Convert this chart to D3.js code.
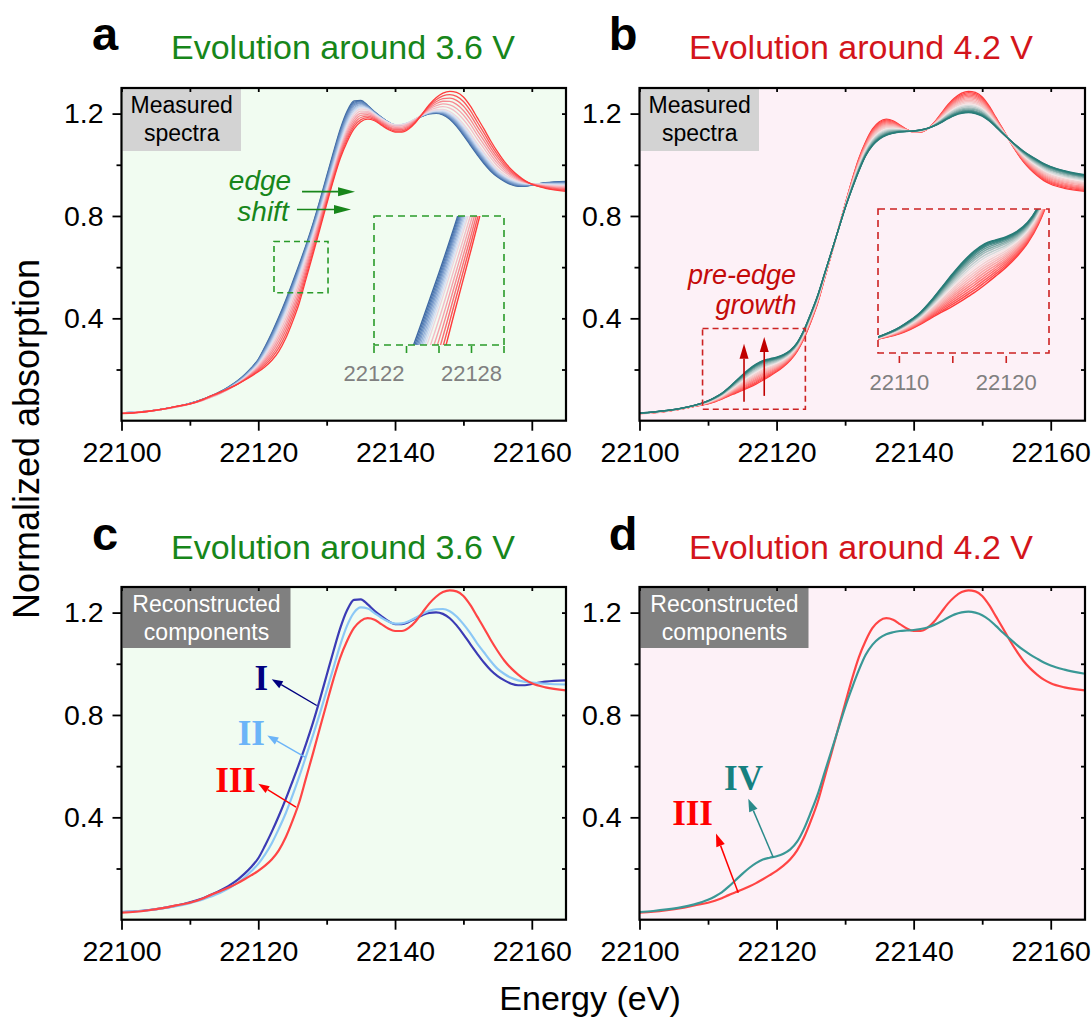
<!DOCTYPE html>
<html>
<head>
<meta charset="utf-8">
<title>XANES evolution around 3.6 V and 4.2 V</title>
<script src="https://cdn.jsdelivr.net/npm/d3@7/dist/d3.min.js"></script>
<style>
  html, body { margin: 0; padding: 0; background: #ffffff; }
  svg { display: block; }
</style>
</head>
<body>
<svg id="fig" width="1092" height="1023"></svg>
<script>
// Photon energy grid (eV)
const energy = [22100,22102,22104,22106,22108,
  22110,22111,22112,22113,22114,22115,22116,22117,22118,22119,22120,
  22121,22122,22123,22124,22125,22126,22127,22128,22129,22130,
  22131,22132,22133,22134,22135,22136,22137,22138,22139,22140,
  22141,22142,22143,22144,22145,22146,22147,22148,22149,22150,
  22151,22152,22153,22154,22155,22156,22157,22158,22159,22160,
  22162,22165];

// Reconstructed component spectra (normalized absorption)
const compI = [0.030,0.033,0.038,0.045,0.055,
  0.068,0.076,0.085,0.096,0.108,0.122,0.138,0.157,0.180,0.207,0.240,
  0.290,0.345,0.405,0.470,0.540,0.612,0.688,0.770,0.860,0.955,
  1.050,1.140,1.210,1.250,1.252,1.232,1.207,1.186,1.167,1.155,
  1.155,1.163,1.177,1.190,1.199,1.201,1.195,1.178,1.150,1.115,
  1.077,1.040,1.005,0.975,0.952,0.935,0.922,0.916,0.916,0.921,
  0.930,0.935];
const compII = [0.030,0.033,0.037,0.044,0.053,
  0.065,0.072,0.080,0.090,0.100,0.113,0.128,0.145,0.165,0.190,0.218,
  0.255,0.300,0.355,0.415,0.485,0.560,0.640,0.720,0.805,0.895,
  0.985,1.075,1.150,1.200,1.220,1.216,1.198,1.180,1.165,1.157,
  1.158,1.166,1.180,1.195,1.207,1.213,1.214,1.205,1.185,1.155,
  1.120,1.080,1.045,1.010,0.980,0.960,0.945,0.935,0.929,0.926,
  0.922,0.919];
const compIII = [0.028,0.031,0.037,0.045,0.056,
  0.066,0.074,0.084,0.096,0.107,0.118,0.130,0.143,0.158,0.174,0.191,
  0.211,0.236,0.271,0.321,0.386,0.460,0.555,0.650,0.748,0.845,
  0.940,1.025,1.090,1.140,1.168,1.178,1.172,1.155,1.138,1.128,
  1.128,1.140,1.165,1.200,1.235,1.262,1.280,1.287,1.283,1.265,
  1.230,1.185,1.140,1.093,1.050,1.012,0.982,0.958,0.938,0.924,
  0.908,0.896];
const compIV = [0.030,0.034,0.040,0.048,0.060,
  0.078,0.091,0.107,0.129,0.154,0.179,0.202,0.221,0.235,0.242,0.248,
  0.258,0.275,0.305,0.355,0.420,0.490,0.575,0.660,0.745,0.830,
  0.905,0.975,1.035,1.075,1.100,1.115,1.123,1.128,1.130,1.132,
  1.136,1.142,1.152,1.165,1.180,1.193,1.201,1.204,1.200,1.190,
  1.172,1.148,1.122,1.098,1.075,1.054,1.036,1.020,1.005,0.993,
  0.977,0.961];

// Measured spectra around 3.6 V: fractions of components I, II and III
const fracA_I   = [1.00,0.90,0.80,0.70,0.60,0.48,0.36,0.24,0.10,0.00,0.00,0.00,0.00,0.00,0.00,0.00];
const fracA_II  = [0.00,0.10,0.20,0.30,0.40,0.52,0.64,0.76,0.90,0.96,0.80,0.64,0.48,0.32,0.16,0.00];
const fracA_III = [0.00,0.00,0.00,0.00,0.00,0.00,0.00,0.00,0.00,0.04,0.20,0.36,0.52,0.68,0.84,1.00];
const colorsA = ["#3e68a3","#4a74ad","#5a82b8","#6b90c3","#7f9fcd","#94b0d8","#abc2e2","#c3d3ec",
                 "#d8e0f2","#eed6de","#f4bcc6","#f6a2ac","#f88890","#fa6e74","#fc5458","#ff3b3b"];

// Measured spectra around 4.2 V: fraction of component IV (remainder is III)
const fracB_IV = [0.00,0.06,0.12,0.18,0.24,0.30,0.36,0.42,0.48,0.54,0.60,0.66,0.72,0.78,0.83,0.88,0.92,0.95,0.98,1.00];
const colorsB = ["#ff3a3a","#ff4c4c","#ff5e5e","#ff7070","#fd8282","#fb9494","#f9a6a6","#f7b6b6","#f5c4c4","#f2d0d0",
                 "#f4e4e4","#d8dcdc","#bccccb","#a0bcba","#84aca9","#689c99","#4e8f8b","#3a8682","#2e807c","#277b77"];

// Axis ticks
const xMajor = [22100, 22120, 22140, 22160];
const xMinor = [22110, 22130, 22150];
const yMajor = [0.4, 0.8, 1.2];
const yMinor = [0.2, 0.6, 1.0];
const insetATicks = [22122, 22124, 22126, 22128, 22130];
const insetALabels = [22122, 22128];
const insetBTicks = [22110, 22115, 22120];
const insetBLabels = [22110, 22120];

const xDomain = [22100, 22165];
const yDomain = [0, 1.3];

const SANS = '"Liberation Sans", Arial, sans-serif';
const SERIF = '"Liberation Serif", "Times New Roman", serif';
const GREEN = "#17861a", RED = "#d3151b", DARKRED = "#c40a0a";
const BG_GREEN = "#f1fcf1", BG_PINK = "#fdf1f7";

const svg = d3.select("#fig").style("font-family", SANS);
const defs = svg.append("defs");

function series(vals) { return energy.map((e, i) => [e, vals[i]]); }
function mix(weights, comps) {
  return energy.map((e, i) => [e, comps.reduce((s, c, k) => s + weights[k] * c[i], 0)]);
}

function panel(id, left, top, width, height, bg) {
  const x = d3.scaleLinear().domain(xDomain).range([left, left + width]);
  const y = d3.scaleLinear().domain(yDomain).range([top + height, top]);
  const g = svg.append("g").attr("id", "panel-" + id);
  g.append("rect").attr("x", left).attr("y", top).attr("width", width).attr("height", height).attr("fill", bg);
  defs.append("clipPath").attr("id", "clip-" + id)
    .append("rect").attr("x", left).attr("y", top).attr("width", width).attr("height", height);
  const plot = g.append("g").attr("clip-path", `url(#clip-${id})`);
  const line = d3.line().x(d => x(d[0])).y(d => y(d[1])).curve(d3.curveMonotoneX);
  return { id, x, y, g, plot, line, left, top, width, height };
}

function styleAxis(sel, fs) {
  sel.select(".domain").remove();
  sel.selectAll(".tick line").attr("stroke", "#000").attr("stroke-width", 1.8);
  sel.selectAll(".tick text").attr("font-size", fs).attr("fill", "#000").style("font-family", SANS);
}

const TICK_FS = 28.5;
function axes(P) {
  const a = P.g.append("g");
  const bottom = P.top + P.height, right = P.left + P.width;
  a.append("g").attr("transform", `translate(0,${bottom})`)
    .call(d3.axisBottom(P.x).tickValues(xMajor).tickSize(10).tickPadding(11).tickFormat(d3.format("d")))
    .call(s => styleAxis(s, TICK_FS));
  a.append("g").attr("transform", `translate(0,${bottom})`)
    .call(d3.axisBottom(P.x).tickValues(xMinor).tickSize(5).tickFormat(""))
    .call(s => styleAxis(s, TICK_FS));
  a.append("g").attr("transform", `translate(${P.left},0)`)
    .call(d3.axisLeft(P.y).tickValues(yMajor).tickSize(9).tickPadding(9).tickFormat(d3.format(".1f")))
    .call(s => styleAxis(s, TICK_FS));
  a.append("g").attr("transform", `translate(${P.left},0)`)
    .call(d3.axisLeft(P.y).tickValues(yMinor).tickSize(5).tickFormat(""))
    .call(s => styleAxis(s, TICK_FS));
  // mirrored ticks on the top and right edges, pointing inwards
  a.append("g").attr("transform", `translate(0,${P.top})`)
    .call(d3.axisBottom(P.x).tickValues(xMajor.concat(xMinor)).tickSize(4).tickFormat(""))
    .call(s => styleAxis(s, TICK_FS));
  a.append("g").attr("transform", `translate(${right},0)`)
    .call(d3.axisLeft(P.y).tickValues(yMajor.concat(yMinor)).tickSize(4).tickFormat(""))
    .call(s => styleAxis(s, TICK_FS));
  a.append("rect").attr("x", P.left).attr("y", P.top).attr("width", P.width).attr("height", P.height)
    .attr("fill", "none").attr("stroke", "#000").attr("stroke-width", 2.2);
}

function arrow(sel, x1, y1, x2, y2, color, width, headLen, headW) {
  const ang = Math.atan2(y2 - y1, x2 - x1);
  const bx = x2 - headLen * Math.cos(ang), by = y2 - headLen * Math.sin(ang);
  sel.append("line").attr("x1", x1).attr("y1", y1).attr("x2", bx).attr("y2", by)
    .attr("stroke", color).attr("stroke-width", width);
  const px = -Math.sin(ang) * headW / 2, py = Math.cos(ang) * headW / 2;
  sel.append("path").attr("d", `M${x2},${y2}L${bx + px},${by + py}L${bx - px},${by - py}Z`).attr("fill", color);
}

function labelBox(P, w, h, fill, color, lines, fs) {
  const g = P.g.append("g");
  g.append("rect").attr("x", P.left + 1).attr("y", P.top + 1).attr("width", w).attr("height", h).attr("fill", fill);
  lines.forEach((t, i) => {
    g.append("text").attr("x", P.left + 1 + w / 2).attr("y", P.top + 25 + i * 28)
      .attr("text-anchor", "middle").attr("font-size", fs).attr("fill", color).text(t);
  });
}

function headerText(x, y, letter, title, color) {
  svg.append("text").attr("x", x).attr("y", y).attr("text-anchor", "middle")
    .attr("font-size", 47).attr("font-weight", "bold").attr("fill", "#000").text(letter);
  svg.append("text").attr("x", x + 238).attr("y", y + 9).attr("text-anchor", "middle")
    .attr("font-size", 34).attr("fill", color).text(title);
}

// ---------- layout ----------
const rowTop = [88, 587], rowH = 332.7;
const colLeft = [121.5, 639.5], colW = [444.5, 445.5];

const A = panel("a", colLeft[0], rowTop[0], colW[0], rowH, BG_GREEN);
const B = panel("b", colLeft[1], rowTop[0], colW[1], rowH, BG_PINK);
const C = panel("c", colLeft[0], rowTop[1], colW[0], rowH, BG_GREEN);
const D = panel("d", colLeft[1], rowTop[1], colW[1], rowH, BG_PINK);

// ---------- panel a: measured spectra around 3.6 V ----------
const specA = fracA_I.map((f, k) => mix([fracA_I[k], fracA_II[k], fracA_III[k]], [compI, compII, compIII]));
specA.forEach((s, k) => {
  A.plot.append("path").datum(s).attr("d", A.line).attr("fill", "none")
    .attr("stroke", colorsA[k]).attr("stroke-width", 1.3);
});
labelBox(A, 118.5, 62, "#d3d3d3", "#000", ["Measured", "spectra"], 23);

// edge-shift annotation
A.g.append("text").attr("x", 260).attr("y", 190).attr("text-anchor", "middle").attr("font-size", 28)
  .attr("font-style", "italic").attr("fill", GREEN).text("edge");
A.g.append("text").attr("x", 263).attr("y", 221).attr("text-anchor", "middle").attr("font-size", 28)
  .attr("font-style", "italic").attr("fill", GREEN).text("shift");
arrow(A.g, A.x(22126.4), A.y(0.895), A.x(22134.15), A.y(0.895), GREEN, 1.6, 17, 9);
arrow(A.g, A.x(22125.66), A.y(0.825), A.x(22133.56), A.y(0.825), GREEN, 1.6, 17, 9);

// zoom window in a
const zoomA = { x0: 22122.3, x1: 22130.2, y0: 0.5, y1: 0.7 };
A.g.append("rect").attr("x", A.x(zoomA.x0)).attr("y", A.y(zoomA.y1))
  .attr("width", A.x(zoomA.x1) - A.x(zoomA.x0)).attr("height", A.y(zoomA.y0) - A.y(zoomA.y1))
  .attr("fill", "none").attr("stroke", "#2a9a2a").attr("stroke-width", 1.6).attr("stroke-dasharray", "6,4");

// inset a
(function () {
  const L = 374, R = 504, T = 216, Bt = 345;
  const xi = d3.scaleLinear().domain([22122, 22130]).range([L, R]);
  const yi = d3.scaleLinear().domain([0.5, 0.7]).range([Bt, T]);
  defs.append("clipPath").attr("id", "clip-inset-a").append("rect")
    .attr("x", L).attr("y", T).attr("width", R - L).attr("height", Bt - T);
  const li = d3.line().x(d => xi(d[0])).y(d => yi(d[1])).curve(d3.curveMonotoneX);
  const gi = A.g.append("g").attr("clip-path", "url(#clip-inset-a)");
  specA.forEach((s, k) => {
    gi.append("path").datum(s).attr("d", li).attr("fill", "none")
      .attr("stroke", colorsA[k]).attr("stroke-width", 1.4);
  });
  A.g.append("rect").attr("x", L).attr("y", T).attr("width", R - L).attr("height", Bt - T)
    .attr("fill", "none").attr("stroke", "#2a9a2a").attr("stroke-width", 1.6).attr("stroke-dasharray", "7,5");
  insetATicks.forEach(t => {
    A.g.append("line").attr("x1", xi(t)).attr("x2", xi(t)).attr("y1", Bt + 1).attr("y2", Bt + 8)
      .attr("stroke", "#2a9a2a").attr("stroke-width", 1.6);
  });
  insetALabels.forEach(t => {
    A.g.append("text").attr("x", xi(t)).attr("y", 381).attr("text-anchor", "middle")
      .attr("font-size", 22).attr("fill", "#808080").text(t);
  });
})();

// ---------- panel b: measured spectra around 4.2 V ----------
const specB = fracB_IV.map(f => mix([1 - f, f], [compIII, compIV]));
specB.forEach((s, k) => {
  B.plot.append("path").datum(s).attr("d", B.line).attr("fill", "none")
    .attr("stroke", colorsB[k]).attr("stroke-width", 1.3);
});
labelBox(B, 118.5, 62, "#d3d3d3", "#000", ["Measured", "spectra"], 23);

B.g.append("text").attr("x", 742).attr("y", 284).attr("text-anchor", "middle").attr("font-size", 27)
  .attr("font-style", "italic").attr("fill", DARKRED).text("pre-edge");
B.g.append("text").attr("x", 756).attr("y", 314).attr("text-anchor", "middle").attr("font-size", 27)
  .attr("font-style", "italic").attr("fill", DARKRED).text("growth");

const zoomB = { x0: 22109.2, x1: 22124.2, y0: 0.045, y1: 0.36 };
B.g.append("rect").attr("x", B.x(zoomB.x0)).attr("y", B.y(zoomB.y1))
  .attr("width", B.x(zoomB.x1) - B.x(zoomB.x0)).attr("height", B.y(zoomB.y0) - B.y(zoomB.y1))
  .attr("fill", "none").attr("stroke", "#cc2222").attr("stroke-width", 1.6).attr("stroke-dasharray", "6,4");
arrow(B.g, B.x(22115.25), B.y(0.074), B.x(22115.25), B.y(0.301), "#c00000", 1.6, 15, 9);
arrow(B.g, B.x(22118.2), B.y(0.097), B.x(22118.2), B.y(0.327), "#c00000", 1.6, 15, 9);

// inset b
(function () {
  const L = 878, R = 1049, T = 209, Bt = 353;
  const xi = d3.scaleLinear().domain([22108, 22124]).range([L, R]);
  const yi = d3.scaleLinear().domain([0.03, 0.30]).range([Bt, T]);
  defs.append("clipPath").attr("id", "clip-inset-b").append("rect")
    .attr("x", L).attr("y", T).attr("width", R - L).attr("height", Bt - T);
  const li = d3.line().x(d => xi(d[0])).y(d => yi(d[1])).curve(d3.curveMonotoneX);
  const gi = B.g.append("g").attr("clip-path", "url(#clip-inset-b)");
  specB.forEach((s, k) => {
    gi.append("path").datum(s).attr("d", li).attr("fill", "none")
      .attr("stroke", colorsB[k]).attr("stroke-width", 1.5);
  });
  B.g.append("rect").attr("x", L).attr("y", T).attr("width", R - L).attr("height", Bt - T)
    .attr("fill", "none").attr("stroke", "#cc2222").attr("stroke-width", 1.6).attr("stroke-dasharray", "7,5");
  insetBTicks.forEach(t => {
    B.g.append("line").attr("x1", xi(t)).attr("x2", xi(t)).attr("y1", Bt + 3).attr("y2", Bt + 10)
      .attr("stroke", "#cc2222").attr("stroke-width", 1.6);
  });
  insetBLabels.forEach(t => {
    B.g.append("text").attr("x", xi(t)).attr("y", 390).attr("text-anchor", "middle")
      .attr("font-size", 22).attr("fill", "#808080").text(t);
  });
})();

// ---------- panel c: components I, II, III ----------
[[compI, "#3b3bb5"], [compII, "#8cc8f6"], [compIII, "#ff4545"]].forEach(([c, col]) => {
  C.plot.append("path").datum(series(c)).attr("d", C.line).attr("fill", "none")
    .attr("stroke", col).attr("stroke-width", 2.2);
});
labelBox(C, 168, 60, "#808080", "#fff", ["Reconstructed", "components"], 23);

function roman(P, x, y, txt, color) {
  P.g.append("text").attr("x", x).attr("y", y).attr("text-anchor", "end")
    .style("font-family", SERIF)
    .attr("font-weight", "bold").attr("font-size", 35).attr("fill", color).text(txt);
}
roman(C, 268, 690, "I", "#000080");
roman(C, 265, 745, "II", "#6cb4f8");
roman(C, 256, 792, "III", "#ff0000");
arrow(C.g, C.x(22128.55), C.y(0.837), C.x(22121.97), C.y(0.94), "#000080", 1.4, 11, 8);
arrow(C.g, C.x(22126.84), C.y(0.635), C.x(22121.32), C.y(0.72), "#6cb4f8", 1.4, 11, 8);
arrow(C.g, C.x(22125.52), C.y(0.44), C.x(22120.0), C.y(0.531), "#ff0000", 1.4, 11, 8);

// ---------- panel d: components III and IV ----------
[[compIII, "#ff4545"], [compIV, "#3a9896"]].forEach(([c, col]) => {
  D.plot.append("path").datum(series(c)).attr("d", D.line).attr("fill", "none")
    .attr("stroke", col).attr("stroke-width", 2.2);
});
labelBox(D, 168, 60, "#808080", "#fff", ["Reconstructed", "components"], 23);
roman(D, 763, 790, "IV", "#168080");
roman(D, 713, 825, "III", "#ff0000");
arrow(D.g, D.x(22119.52), D.y(0.243), D.x(22115.87), D.y(0.473), "#2a8a8a", 1.5, 13, 9);
arrow(D.g, D.x(22114.41), D.y(0.105), D.x(22111.16), D.y(0.337), "#ff0000", 1.5, 13, 9);

[A, B, C, D].forEach(axes);

// ---------- headers and axis titles ----------
headerText(105, 50, "a", "Evolution around 3.6 V", GREEN);
headerText(623, 50, "b", "Evolution around 4.2 V", RED);
headerText(105, 550, "c", "Evolution around 3.6 V", GREEN);
headerText(623, 550, "d", "Evolution around 4.2 V", RED);

svg.append("text").attr("transform", "translate(39,439) rotate(-90)").attr("text-anchor", "middle")
  .attr("font-size", 36).attr("fill", "#000").text("Normalized absorption");
svg.append("text").attr("x", 590).attr("y", 1010).attr("text-anchor", "middle")
  .attr("font-size", 34).attr("fill", "#000").text("Energy (eV)");
</script>
</body>
</html>
